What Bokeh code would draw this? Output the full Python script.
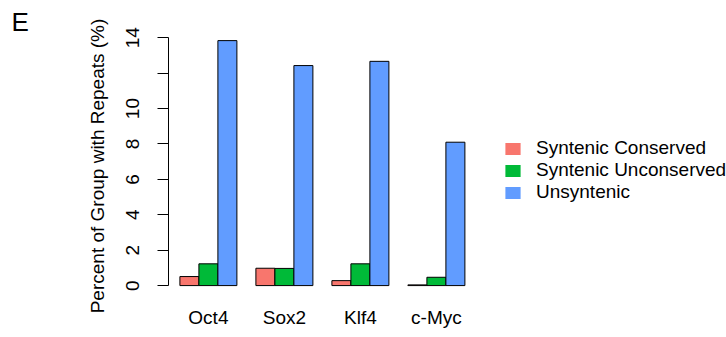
from bokeh.plotting import figure
from bokeh.models import Range1d, FixedTicker, Legend, LegendItem, ColumnDataSource
from bokeh.embed import file_html
from bokeh.resources import INLINE

# Percent of each gene group that carries repeats
genes = ["Oct4", "Sox2", "Klf4", "c-Myc"]
series_names = ["Syntenic Conserved", "Syntenic Unconserved", "Unsyntenic"]
syntenic_conserved = [0.51, 0.98, 0.28, 0.04]
syntenic_unconserved = [1.23, 0.97, 1.23, 0.47]
unsyntenic = [13.84, 12.43, 12.67, 8.10]
y_ticks = [0, 2, 4, 6, 8, 10, 12, 14]
y_tick_labels = ["0", "2", "4", "6", "8", "10", "", "14"]
colors = ["#F8766D", "#00BA38", "#619CFF"]

FONT = "Liberation Sans"
FS = "19px"
W, H = 726, 337
LEFT, RIGHT, TOP, BOTTOM = 168, 0, 36, 42
PX_PER_BAR = 19
PX_PER_PCT = 17.7
x_start = 0.4
x_end = x_start + (W - LEFT - RIGHT) / PX_PER_BAR
y_start = -0.56
y_end = y_start + (H - TOP - BOTTOM) / PX_PER_PCT

p = figure(width=W, height=H, output_backend="svg", toolbar_location=None,
           x_range=Range1d(x_start, x_end), y_range=Range1d(y_start, y_end),
           min_border_left=LEFT, min_border_right=RIGHT,
           min_border_top=TOP, min_border_bottom=BOTTOM)
p.outline_line_color = None
p.xgrid.visible = False
p.ygrid.visible = False
p.background_fill_color = "white"
p.border_fill_color = "white"

# panel letter in the top-left corner
p.title.text = "E"
p.title.align = "left"
p.title.offset = -157
p.title.standoff = 0
p.title.text_font = FONT
p.title.text_font_size = "26px"
p.title.text_font_style = "normal"
p.title.text_color = "black"

# grouped bars: each group is 3 unit-wide bars with one unit of space before it
series = [syntenic_conserved, syntenic_unconserved, unsyntenic]
group_starts = [1 + 4 * i for i in range(len(genes))]
fill_renderers = []
for k, (vals, col) in enumerate(zip(series, colors)):
    src = ColumnDataSource(dict(x=[g + k + 0.5 for g in group_starts], top=vals))
    r = p.vbar(x="x", top="top", bottom=0, width=1, source=src,
               fill_color=col, line_color=None)
    fill_renderers.append(r)
    # black outline drawn on top of the fill
    p.vbar(x="x", top="top", bottom=0, width=1, source=src,
           fill_color=None, line_color="black", line_width=1)

# x axis: gene names centred under each group, no line or ticks
centers = [g + 1.5 for g in group_starts]
xa = p.xaxis[0]
xa.ticker = FixedTicker(ticks=centers, minor_ticks=[])
xa.major_label_overrides = {c: g for c, g in zip(centers, genes)}
xa.axis_line_color = None
xa.major_tick_line_color = None
xa.minor_tick_line_color = None
xa.major_label_standoff = 5
xa.major_label_text_font = FONT
xa.major_label_text_font_size = FS
xa.major_label_text_color = "black"

# y axis
ya = p.yaxis[0]
ya.bounds = (0, 14)
ya.ticker = FixedTicker(ticks=y_ticks, minor_ticks=[])
ya.major_label_overrides = dict(zip(y_ticks, y_tick_labels))
ya.major_label_orientation = "vertical"
ya.major_tick_out = 11
ya.major_tick_in = 0
ya.minor_tick_line_color = None
ya.axis_line_color = "black"
ya.major_tick_line_color = "black"
ya.major_label_standoff = 18
ya.major_label_text_font = FONT
ya.major_label_text_font_size = FS
ya.major_label_text_color = "black"
ya.axis_label = "Percent of Group with Repeats (%)"
ya.axis_label_text_font = FONT
ya.axis_label_text_font_size = FS
ya.axis_label_text_font_style = "normal"
ya.axis_label_text_color = "black"
ya.axis_label_standoff = 16

# legend with borderless swatches
items = [LegendItem(label=name, renderers=[r]) for name, r in zip(series_names, fill_renderers)]
legend = Legend(items=items, location=(335, 92), padding=0, margin=0,
                border_line_color=None, background_fill_alpha=0,
                glyph_width=19, glyph_height=15, label_height=20, spacing=0,
                label_standoff=14, label_text_font=FONT, label_text_font_size=FS,
                label_text_color="black")
p.add_layout(legend)

open("out.html", "w").write(file_html(p, INLINE))
